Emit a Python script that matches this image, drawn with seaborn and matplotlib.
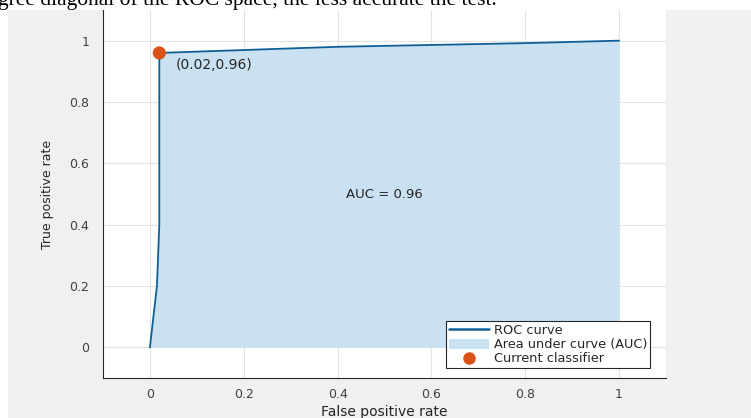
import seaborn as sns
import pandas as pd
import matplotlib.pyplot as plt
from matplotlib.patches import Rectangle, Patch
from matplotlib.lines import Line2D

# ROC points
fpr = [0.0, 0.015, 0.02, 0.02, 0.4, 0.6, 0.8, 1.0]
tpr = [0.0, 0.2, 0.4, 0.96, 0.98, 0.986, 0.992, 1.0]
classifier_fpr = [0.02]
classifier_tpr = [0.96]
auc_value = 0.96
ticks = [0, 0.2, 0.4, 0.6, 0.8, 1]
tick_labels = ["0", "0.2", "0.4", "0.6", "0.8", "1"]

sns.set_style("white")
plt.rcParams["font.family"] = ["DejaVu Sans"]

df = pd.DataFrame({"fpr": fpr, "tpr": tpr})
pt = pd.DataFrame({"fpr": classifier_fpr, "tpr": classifier_tpr})

fig = plt.figure(figsize=(7.51, 4.18), dpi=100, facecolor="white")
# grey figure area under the cut-off page text
fig.patches.append(Rectangle((8 / 751, 0), 1 - 8 / 751, 1 - 10 / 418,
                             transform=fig.transFigure, facecolor="#f0f0f0",
                             edgecolor="none", zorder=-5))
fig.text(-0.002, 1 - 5 / 418, "gree diagonal of the ROC space, the less accurate the test.",
         family="Liberation Serif", fontsize=15.5, va="baseline", ha="left", color="black",
         zorder=5)

ax = fig.add_axes([103 / 751, 40 / 418, 563 / 751, 368 / 418])
ax.set_facecolor("white")

ax.fill_between(df["fpr"], df["tpr"], 0, color="#c9e1f1", linewidth=0, zorder=1)
sns.lineplot(data=df, x="fpr", y="tpr", sort=False, estimator=None, color="#0f5f96",
             linewidth=1.3, ax=ax, zorder=3)
sns.scatterplot(data=pt, x="fpr", y="tpr", color="#D95319", s=90, edgecolor="none",
                ax=ax, zorder=4)

ax.text(0.5, 0.5, f"AUC = {auc_value:.2f}", ha="center", va="center", fontsize=9.5,
        color="#262626")
ax.text(0.055, 0.945, f"({classifier_fpr[0]:.2f},{classifier_tpr[0]:.2f})", ha="left",
        va="top", fontsize=10, color="#262626")

ax.set_xlim(-0.1, 1.1)
ax.set_ylim(-0.1, 1.1)
ax.set_xticks(ticks)
ax.set_xticklabels(tick_labels)
ax.set_yticks(ticks)
ax.set_yticklabels(tick_labels)
ax.grid(True, color="#e3e3e3", linewidth=0.8, zorder=0)
ax.set_axisbelow(True)
ax.tick_params(direction="in", length=4, width=0.8, colors="#262626", labelsize=9,
               labelcolor="#404040")
ax.tick_params(axis="x", pad=7)
ax.tick_params(axis="y", pad=10)
for side in ["top", "right"]:
    ax.spines[side].set_visible(False)
for side in ["left", "bottom"]:
    ax.spines[side].set_color("#262626")
    ax.spines[side].set_linewidth(0.8)

ax.set_xlabel("False positive rate", fontsize=10, color="#262626", labelpad=3)
ax.set_ylabel("True positive rate", fontsize=9, color="#262626", labelpad=11)

handles = [
    Line2D([0], [0], color="#0f5f96", linewidth=1.8),
    Patch(facecolor="#c9e1f1", edgecolor="none"),
    Line2D([0], [0], color="#D95319", marker="o", linestyle="none", markersize=8),
]
labels = ["ROC curve", "Area under curve (AUC)", "Current classifier"]
leg = ax.legend(handles, labels, loc="lower right", bbox_to_anchor=(0.972, 0.027),
                borderaxespad=0, fontsize=9.3, fancybox=False, framealpha=1,
                edgecolor="#262626", handlelength=3.1, handleheight=0.8,
                handletextpad=0.35, labelspacing=0.08, borderpad=0.22)
leg.get_frame().set_linewidth(0.8)

fig.savefig("out.png", dpi=100)
